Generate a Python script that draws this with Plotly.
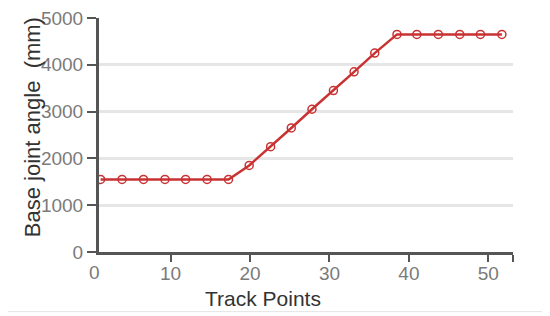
import plotly.graph_objects as go

# Track point positions and base joint values
trackPoints = [1.2, 3.9, 6.6, 9.3, 11.9, 14.6, 17.3, 19.9, 22.6, 25.2,
               27.8, 30.5, 33.1, 35.7, 38.5, 41.0, 43.7, 46.4, 49.0, 51.7]
baseJoint = [1550, 1550, 1550, 1550, 1550, 1550, 1550, 1850, 2250, 2650,
             3050, 3450, 3850, 4250, 4650, 4650, 4650, 4650, 4650, 4650]

xTicks = [10, 20, 30, 40, 50]
yTicks = [0, 1000, 2000, 3000, 4000, 5000]

lineColour = '#c93232'
axisColour = '#555555'
tickFontColour = '#7a7a7a'
titleColour = '#333333'
gridColour = '#e6e6e6'
fontFamily = 'Arial, Liberation Sans, sans-serif'

fig = go.Figure()
fig.add_trace(go.Scatter(x=trackPoints, y=baseJoint, mode='lines+markers',
                         line=dict(color=lineColour, width=2.5),
                         marker=dict(symbol='circle-open', size=8, color=lineColour,
                                     line=dict(width=1.5, color=lineColour)),
                         showlegend=False))

fig.update_xaxes(range=[1.0, 53.1], tickvals=xTicks + [53.1],
                 ticktext=[str(t) for t in xTicks] + [''], automargin=False,
                 showgrid=False, zeroline=False, showline=True, linecolor=axisColour,
                 linewidth=3, ticks='outside', ticklen=7, tickwidth=2, tickcolor=axisColour,
                 ticklabelstandoff=-5,
                 tickfont=dict(size=19, color=tickFontColour, family=fontFamily))
fig.update_yaxes(range=[0, 5000], tickvals=yTicks, showgrid=True, gridcolor=gridColour,
                 gridwidth=3, zeroline=False, showline=True, linecolor=axisColour,
                 linewidth=3, ticks='outside', ticklen=9, tickwidth=2, tickcolor=axisColour,
                 ticklabelstandoff=0, ticklabeloverflow='allow', automargin=False,
                 tickfont=dict(size=19, color=tickFontColour, family=fontFamily))

# Axis titles and the "0" x label sit where the original put them
fig.add_annotation(text='Track Points', xref='paper', yref='paper', x=0.395, y=-0.197,
                   xanchor='center', yanchor='middle', showarrow=False,
                   font=dict(size=21, color=titleColour, family=fontFamily))
fig.add_annotation(text='Base joint angle  (mm)', xref='paper', yref='paper', x=-0.161, y=0.535,
                   textangle=-90, xanchor='center', yanchor='middle', showarrow=False,
                   font=dict(size=22, color=titleColour, family=fontFamily))
fig.add_annotation(text='0', xref='paper', yref='paper', x=-0.012, y=-0.086,
                   xanchor='center', yanchor='middle', showarrow=False,
                   font=dict(size=19, color=tickFontColour, family=fontFamily))

fig.add_shape(type='line', xref='paper', yref='paper', x0=-0.22, x1=1.07, y0=-0.255, y1=-0.255,
              line=dict(color='#e3e3e3', width=1))

# page body adds 8px around the div, so the figure is trimmed to keep the same plot box
fig.update_layout(width=542, height=308, paper_bgcolor='white', plot_bgcolor='white',
                  margin=dict(t=10, b=64, l=91, r=37), font=dict(family=fontFamily))

fig.write_html("out.html")
